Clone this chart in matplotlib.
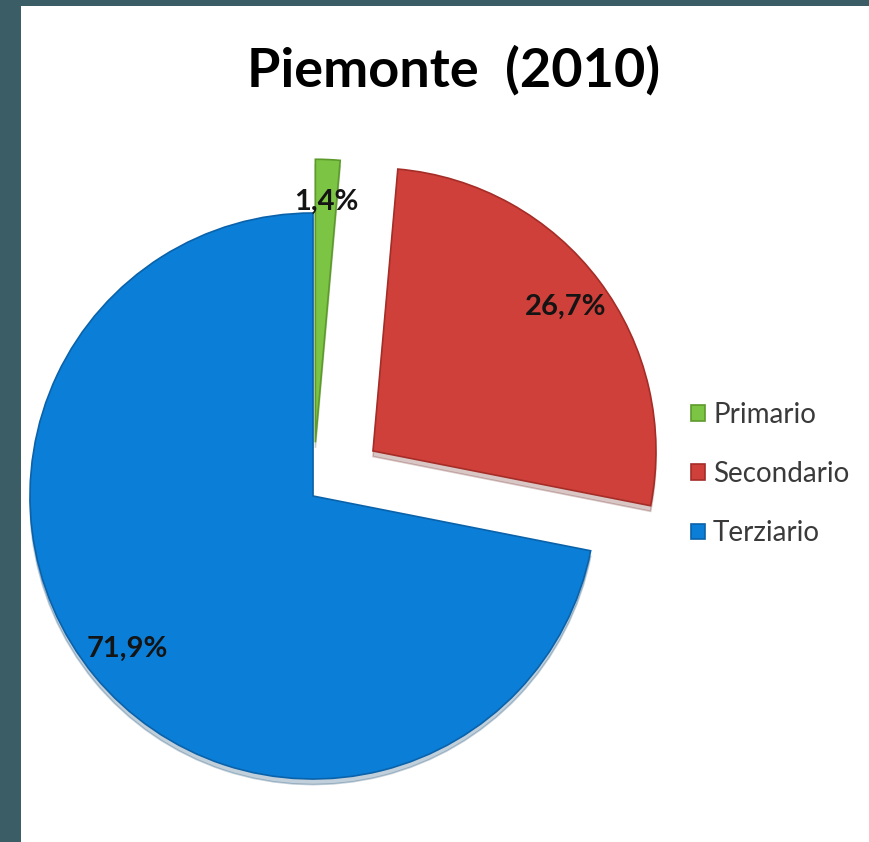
import matplotlib.pyplot as plt

plt.rcParams['font.family'] = ['Lato', 'DejaVu Sans']

# data
sectors = ['Primario', 'Secondario', 'Terziario']
shares = [1.4, 26.7, 71.9]
colors = ['#7cc443', '#d0403a', '#0b7fd8']
edges = ['#5d9a2c', '#a52d27', '#0a62aa']
title = 'Piemonte  (2010)'

W, H = 869, 842
R = 283
fig = plt.figure(figsize=(W / 100, H / 100), dpi=100)
fig.patch.set_facecolor('#3b5e66')

# white panel, data units = pixels of the picture
ax = fig.add_axes([21 / W, 0, (W - 21) / W, (H - 6) / H])
ax.set_facecolor('white')
for s in ax.spines.values():
    s.set_visible(False)

# explode is in data units here, so scale by the radius
explode = [0.19 * R, 0.265 * R, 0.0]
wedges, texts, autotexts = ax.pie(
    shares, colors=colors, explode=explode, startangle=90, counterclock=False,
    center=(313, H - 496), radius=R, pctdistance=0.85,
    autopct=lambda p: f'{p:.1f}%'.replace('.', ','),
    wedgeprops=dict(linewidth=1.2),
    shadow=dict(ox=0, oy=-4, shade=0.5, alpha=0.25),
    textprops=dict(fontsize=21, fontweight='bold', color='#141414'),
    frame=True)
ax.set_aspect('equal')
ax.set_xlim(21, W)
ax.set_ylim(0, H - 6)
ax.set_xticks([])
ax.set_yticks([])
for w, ec in zip(wedges, edges):
    w.set_edgecolor(ec)

ax.text(454, H - 70, title, ha='center', va='center', fontsize=39,
        fontweight='bold', color='black')

leg = ax.legend(wedges, sectors, loc='center left',
                bbox_to_anchor=((677 - 21) / (W - 21), (H - 474) / (H - 6)),
                frameon=False, fontsize=20, handlelength=0.5, handleheight=0.5,
                handletextpad=0.3, labelspacing=1.2, borderpad=0)
for t in leg.get_texts():
    t.set_color('#3a3a3a')

fig.savefig('out.png', dpi=100, facecolor=fig.get_facecolor())
